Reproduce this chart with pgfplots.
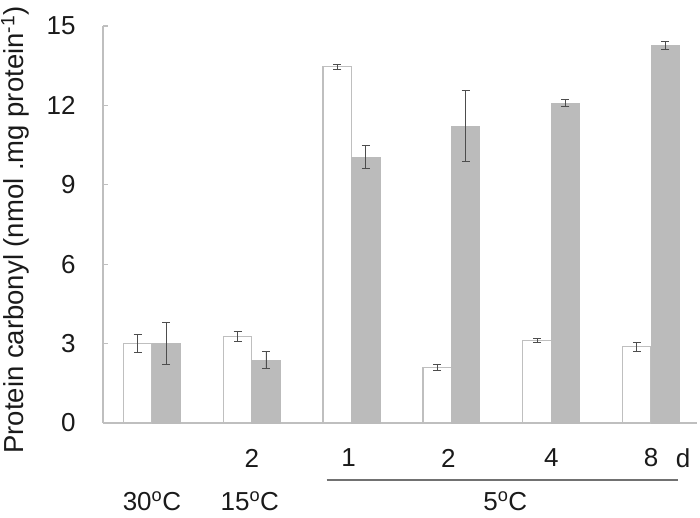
\documentclass[border=0pt]{standalone}
\usepackage{fontspec}
\setmainfont{Liberation Sans}
\usepackage{pgfplots}
\usepackage{pgfplotstable}
\pgfplotsset{compat=1.18}

\definecolor{axgray}{HTML}{BFBFBF}
\definecolor{barfill}{HTML}{BBBBBB}
\definecolor{errgray}{HTML}{4D4D4D}
\definecolor{txt}{HTML}{1A1A1A}

\pgfplotsset{
    errs/.style={
        error bars/y dir=both,
        error bars/y explicit,
        error bars/error bar style={errgray, line width=0.9pt},
        error bars/error mark options={errgray, mark size=4pt, line width=0.9pt, rotate=90},
    },
}

% group, mean, error (open bars)
\pgfplotstableread{
x y e
0 3.00 0.35
1 3.26 0.19
2 13.46 0.10
3 2.10 0.13
4 3.11 0.08
5 2.88 0.16
}\openbars

% group, mean, error (grey bars)
\pgfplotstableread{
x y e
0 3.00 0.80
1 2.38 0.33
2 10.04 0.44
3 11.22 1.35
4 12.09 0.14
5 14.25 0.15
}\greybars

\begin{document}
\begin{tikzpicture}[font=\fontsize{26}{30}\selectfont, text=txt]
\begin{axis}[
    scale only axis,
    width=594pt, height=397pt,
    xmin=-0.49, xmax=5.46,
    ymin=0, ymax=15,
    axis lines*=left,
    axis line style={axgray, line width=1.2pt},
    xtick=\empty,
    ytick={0,3,6,9,12,15},
    tick align=inside,
    major tick length=5pt,
    tick style={axgray, line width=1.2pt},
    yticklabel style={xshift=-24pt, text=txt, font=\fontsize{26}{30}\selectfont},
    /pgf/number format/assume math mode=true,
    ybar, bar width=0.285,
    clip=false,
]
\addplot[ybar, bar shift=-0.1425, fill=white, draw=axgray, line width=1.3pt, errs]
    table[x=x, y=y, y error=e] {\openbars};
\addplot[ybar, bar shift=0.1425, fill=barfill, draw=barfill, line width=0.8pt, errs]
    table[x=x, y=y, y error=e] {\greybars};

% day labels
\node at (axis cs:1,0)    [yshift=-35pt] {2};
\node at (axis cs:1.97,0) [yshift=-35pt] {1};
\node at (axis cs:2.97,0) [yshift=-35pt] {2};
\node at (axis cs:4.0,0)  [yshift=-35pt] {4};
\node at (axis cs:5.0,0)  [yshift=-35pt] {8};
\node at (axis cs:5.32,0) [yshift=-35pt] {d};
% bracket line under 5 C days
\draw[errgray!80, line width=1.2pt] ([yshift=-57pt]axis cs:1.75,0) -- ([yshift=-57pt]axis cs:5.27,0);
% temperature labels
\node[inner sep=1pt] at (axis cs:0,0)    [yshift=-78pt] {30\textsuperscript{o}C};
\node[inner sep=1pt] at (axis cs:0.98,0) [yshift=-78pt] {15\textsuperscript{o}C};
\node[inner sep=1pt] at (axis cs:3.54,0) [yshift=-78pt] {5\textsuperscript{o}C};
\end{axis}
\node[rotate=90, inner sep=1pt, font=\fontsize{27.5}{32}\selectfont] at (-88pt,193pt)
    {Protein carbonyl (nmol .mg protein\textsuperscript{-1})};
\pgfresetboundingbox
\useasboundingbox (-103pt,-95pt) rectangle (597pt,423pt);
\end{tikzpicture}
\end{document}
